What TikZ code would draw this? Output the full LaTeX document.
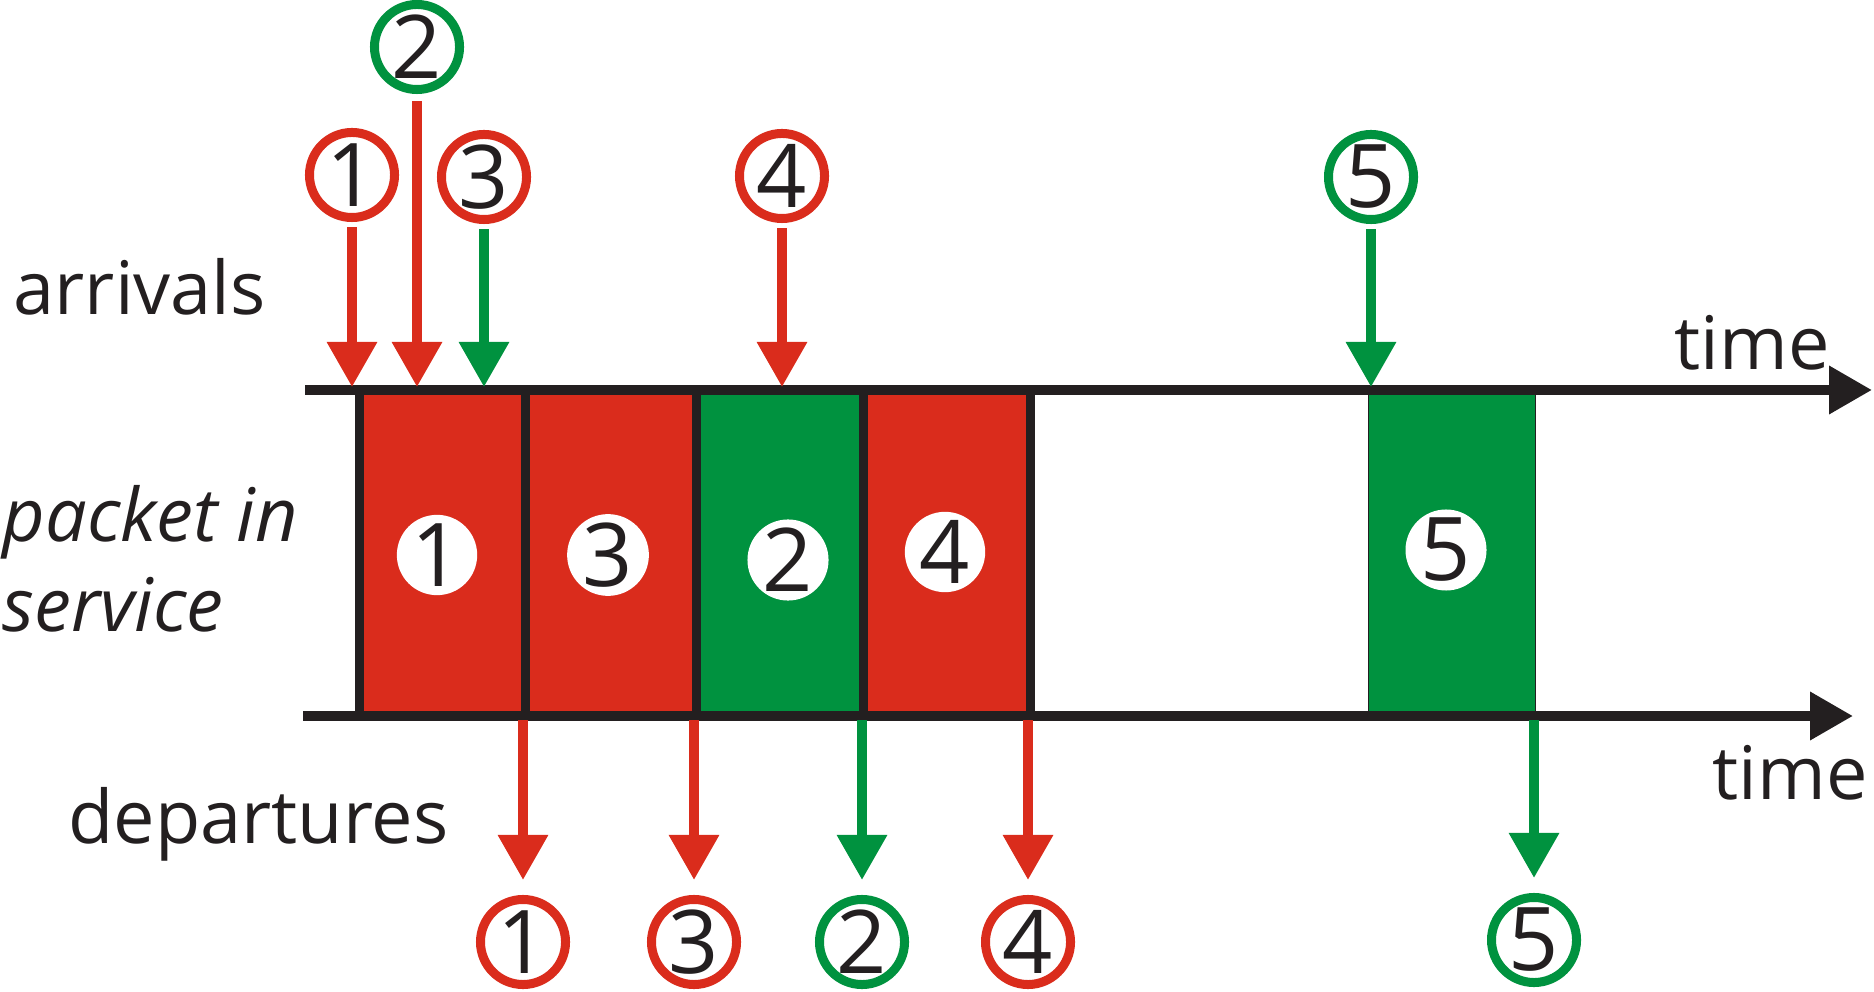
\documentclass[tikz,border=0pt]{standalone}
\usepackage{fontspec}
\setmainfont{Open Sans}
\usetikzlibrary{arrows.meta}
\definecolor{pktred}{RGB}{218,44,28}
\definecolor{pktgreen}{RGB}{0,146,63}
\definecolor{axisblack}{RGB}{35,31,32}

\begin{document}
\begin{tikzpicture}[x=0.01cm,y=-0.01cm]
\tikzstyle{every node}=[inner sep=0pt, text=axisblack]
\tikzstyle{lbl}=[font=\fontsize{21}{25}\selectfont, anchor=base west]
\tikzstyle{lblit}=[font=\fontsize{21}{25}\selectfont\itshape, anchor=base west]
\tikzstyle{tag}=[draw, circle, line width=0.09cm, minimum size=0.85cm, fill=white, font=\fontsize{25}{29}\selectfont]
\tikzstyle{dot}=[circle, fill=white, minimum size=0.75cm, font=\fontsize{25}{29}\selectfont]
\tikzstyle{slot}=[draw=axisblack, line width=0.09cm, minimum width=1.67cm, minimum height=3.26cm]
\tikzstyle{ev}=[line width=0.095cm, -{Triangle[length=0.45cm,width=0.48cm]}]
\tikzstyle{axis}=[draw=axisblack, line width=0.1cm, -{Triangle[length=0.43cm,width=0.46cm]}]

\useasboundingbox (0,0) rectangle (1874,992);

% packets in service
\node[slot, fill=pktred] (s1) at (443,553) {};
\node[slot, fill=pktred, minimum width=1.71cm] (s3) at (611,553) {};
\node[slot, fill=pktgreen] (s2) at (780,553) {};
\node[slot, fill=pktred] (s4) at (947,553) {};
\node[slot, fill=pktgreen, line width=0.01cm, minimum height=3.2cm] (s5) at (1452,552) {};

% time lines
\coordinate (tl) at (305,390);
\coordinate (tr) at (1872,390);
\coordinate (bl) at (303,716);
\coordinate (br) at (1853,716);
\draw[axis] (tl) -- (tr);
\draw[axis] (bl) -- (br);
\node[lbl] (time1) at (1674,370) {time};
\node[lbl] (time2) at (1712,799) {time};

\node[dot] (p1) at (437,555) {1};
\node[dot] (p3) at (608,555) {3};
\node[dot] (p2) at (788,560) {2};
\node[dot] (p4) at (945,552) {4};
\node[dot] (p5) at (1446,550) {5};

% arrivals
\node[lbl] (arr) at (13,315) {arrivals};
\node[tag, draw=pktred] (a1) at (352,175) {1};
\node[tag, draw=pktgreen] (a2) at (417,47) {2};
\node[tag, draw=pktred] (a3) at (484,177) {3};
\node[tag, draw=pktred] (a4) at (782,176) {4};
\node[tag, draw=pktgreen] (a5) at (1371,177) {5};
\coordinate (in1) at (352,387);
\coordinate (in2) at (417,387);
\coordinate (in3) at (484,387);
\coordinate (in4) at (782,387);
\coordinate (in5) at (1371,387);
\draw[ev, pktred, shorten <=0.05cm] (a1) -- (in1);
\draw[ev, pktred, shorten <=0.07cm] (a2) -- (in2);
\draw[ev, pktgreen, shorten <=0.05cm] (a3) -- (in3);
\draw[ev, pktred, shorten <=0.05cm] (a4) -- (in4);
\draw[ev, pktgreen, shorten <=0.05cm] (a5) -- (in5);

\node[lblit] (pkt) at (2,542) {packet in};
\node[lblit] (svc) at (2,632) {service};

% departures
\node[lbl] (dep) at (68,843) {departures};
\coordinate (out1) at (523,720);
\coordinate (out3) at (694,720);
\coordinate (out2) at (862,720);
\coordinate (out4) at (1028,720);
\coordinate (out5) at (1534,720);
\node[tag, draw=pktred] (d1) at (523,942) {1};
\node[tag, draw=pktred] (d3) at (694,942) {3};
\node[tag, draw=pktgreen] (d2) at (862,942) {2};
\node[tag, draw=pktred] (d4) at (1028,942) {4};
\node[tag, draw=pktgreen] (d5) at (1534,940) {5};
\draw[ev, pktred, shorten >=0.15cm] (out1) -- (d1);
\draw[ev, pktred, shorten >=0.15cm] (out3) -- (d3);
\draw[ev, pktgreen, shorten >=0.15cm] (out2) -- (d2);
\draw[ev, pktred, shorten >=0.15cm] (out4) -- (d4);
\draw[ev, pktgreen, shorten >=0.15cm] (out5) -- (d5);

\end{tikzpicture}
\end{document}
